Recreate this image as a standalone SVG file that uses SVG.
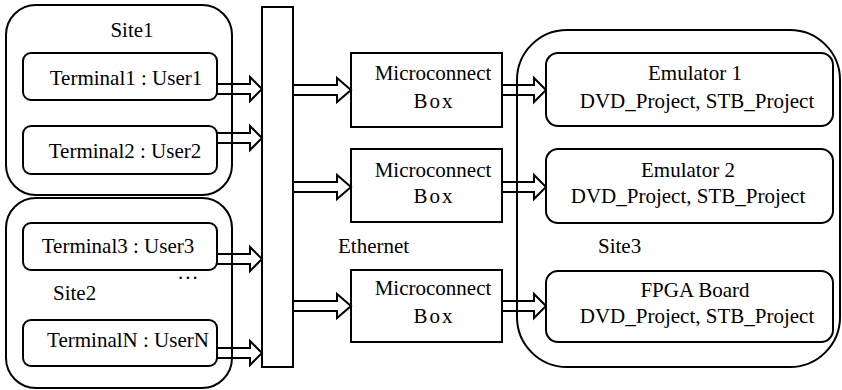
<svg xmlns="http://www.w3.org/2000/svg" width="842" height="390" viewBox="0 0 842 390">
  <style>
    .box { fill: none; stroke: #000; stroke-width: 2; }
    .arrow { fill: none; stroke: #000; stroke-width: 2; stroke-linejoin: miter; }
    text { font-family: 'Liberation Serif', Tinos, 'DejaVu Serif', serif; font-size: 21px; fill: #000; }
    .c { text-anchor: middle; }
  </style>
  <rect width="842" height="390" fill="#fff"/>

  <!-- Sites (containers) -->
  <g id="site1">
    <rect class="box" x="6" y="5" width="226" height="190" rx="30"/>
    <text class="c" x="132" y="37">Site1</text>
  </g>
  <g id="site2">
    <rect class="box" x="6" y="198" width="226" height="190" rx="30"/>
    <text x="53" y="300">Site2</text>
    <text x="178" y="279" letter-spacing="2">...</text>
  </g>
  <g id="site3">
    <rect class="box" x="517" y="30" width="323" height="337" rx="50"/>
    <text x="598" y="253">Site3</text>
  </g>

  <!-- Terminals -->
  <g id="terminal1">
    <rect class="box" x="23" y="53" width="194" height="47" rx="8"/>
    <text class="c" x="126" y="85">Terminal1 : User1</text>
  </g>
  <g id="terminal2">
    <rect class="box" x="23" y="126" width="194" height="48" rx="8"/>
    <text class="c" x="125" y="158">Terminal2 : User2</text>
  </g>
  <g id="terminal3">
    <rect class="box" x="23" y="223" width="194" height="47" rx="8"/>
    <text class="c" x="118" y="253">Terminal3 : User3</text>
  </g>
  <g id="terminalN">
    <rect class="box" x="23" y="320" width="194" height="46" rx="8"/>
    <text class="c" x="128" y="347">TerminalN : UserN</text>
  </g>

  <!-- Ethernet bus -->
  <g id="ethernet">
    <rect class="box" x="262" y="7" width="31" height="360"/>
    <text x="338" y="253">Ethernet</text>
  </g>

  <!-- Microconnect boxes -->
  <g id="mcbox1">
    <rect class="box" x="351" y="53" width="151" height="74"/>
    <text class="c" x="433" y="80">Microconnect</text>
    <text class="c" x="434" y="108" letter-spacing="2">Box</text>
  </g>
  <g id="mcbox2">
    <rect class="box" x="351" y="149" width="151" height="73"/>
    <text class="c" x="433" y="177">Microconnect</text>
    <text class="c" x="434" y="203" letter-spacing="2">Box</text>
  </g>
  <g id="mcbox3">
    <rect class="box" x="351" y="270" width="151" height="72"/>
    <text class="c" x="433" y="295">Microconnect</text>
    <text class="c" x="434" y="323" letter-spacing="2">Box</text>
  </g>

  <!-- Targets -->
  <g id="emulator1">
    <rect class="box" x="546" y="53" width="287" height="73" rx="12"/>
    <text class="c" x="695" y="80">Emulator 1</text>
    <text class="c" x="697" y="108">DVD_Project, STB_Project</text>
  </g>
  <g id="emulator2">
    <rect class="box" x="546" y="149" width="287" height="74" rx="12"/>
    <text class="c" x="688" y="177">Emulator 2</text>
    <text class="c" x="688" y="203">DVD_Project, STB_Project</text>
  </g>
  <g id="fpga">
    <rect class="box" x="546" y="271" width="287" height="71" rx="12"/>
    <text class="c" x="695" y="297">FPGA Board</text>
    <text class="c" x="697" y="323">DVD_Project, STB_Project</text>
  </g>

  <!-- Connectors: hollow block arrows -->
  <g id="connectors">
    <path class="arrow" d="M217 84H250V77L262 89L250 101V94H217"/>
    <path class="arrow" d="M217 133H250V126L262 138L250 150V143H217"/>
    <path class="arrow" d="M217 254H250V247L262 259L250 271V264H217"/>
    <path class="arrow" d="M217 348H250V341L262 353L250 365V358H217"/>

    <path class="arrow" d="M293 85H337V78L351 90L337 102V95H293"/>
    <path class="arrow" d="M293 182H337V175L351 187L337 199V192H293"/>
    <path class="arrow" d="M293 301H337V294L351 306L337 318V311H293"/>

    <path class="arrow" d="M502 85H534V78L546 90L534 102V95H502"/>
    <path class="arrow" d="M502 182H534V175L546 187L534 199V192H502"/>
    <path class="arrow" d="M502 301H534V294L546 306L534 318V311H502"/>
  </g>
</svg>
